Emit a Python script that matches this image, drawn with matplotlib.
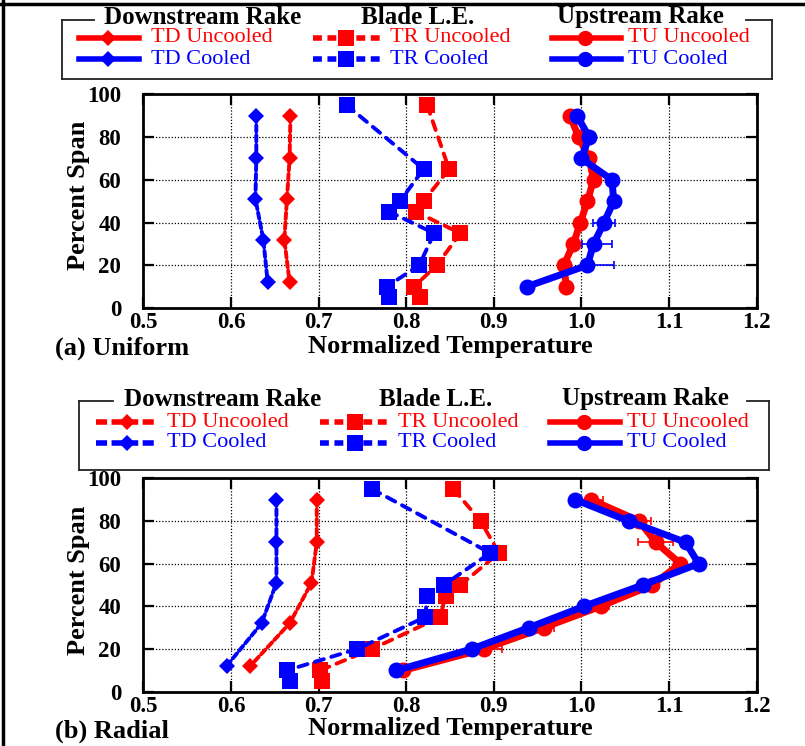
#!/usr/bin/env python
# -*- coding: utf-8 -*-
#
# Span-wise normalized temperature profiles, uniform and radial inlet

import matplotlib
matplotlib.use('Agg')
import matplotlib.pyplot as plt
from matplotlib.lines import Line2D

plt.rcParams['font.family'] = ['Liberation Serif', 'DejaVu Serif']

# -- (a) uniform inlet profile
td_span = [90, 70, 51, 32, 12]
td_unc_a = [0.668, 0.667, 0.664, 0.661, 0.667]
td_cool_a = [0.629, 0.629, 0.628, 0.637, 0.642]

tr_span = [95, 65, 50, 45, 35, 20, 10, 5]
tr_unc_a = [0.824, 0.849, 0.820, 0.811, 0.862, 0.835, 0.809, 0.816]
tr_cool_a = [0.732, 0.820, 0.793, 0.781, 0.832, 0.815, 0.778, 0.780]

tu_span = [90, 80, 70, 60, 50, 40, 30, 20, 10]
tu_unc_a = [0.987, 0.997, 1.009, 1.014, 1.007, 0.999, 0.991, 0.980, 0.983]
tu_cool_a = [0.995, 1.009, 1.000, 1.035, 1.037, 1.026, 1.014, 1.007, 0.938]
tu_cool_err_lo_a = [0, 0, 0, 0, 0, 0.013, 0.013, 0, 0]
tu_cool_err_hi_a = [0, 0, 0, 0, 0, 0.013, 0.021, 0.030, 0]

# -- (b) radial inlet profile
td_unc_b = [0.698, 0.698, 0.692, 0.667, 0.622]
td_cool_b = [0.652, 0.652, 0.652, 0.635, 0.595]

tr_span_unc_b = [95, 80, 65, 50, 45, 35, 20, 10, 5]
tr_unc_b = [0.854, 0.885, 0.906, 0.862, 0.845, 0.839, 0.761, 0.702, 0.704]
tr_span_cool_b = [95, 65, 50, 45, 35, 20, 10, 5]
tr_cool_b = [0.761, 0.896, 0.843, 0.824, 0.822, 0.744, 0.664, 0.667]

tu_unc_b = [1.011, 1.066, 1.085, 1.113, 1.081, 1.022, 0.957, 0.889, 0.797]
tu_cool_b = [0.993, 1.054, 1.119, 1.134, 1.070, 1.003, 0.940, 0.875, 0.789]
tu_unc_err_lo_b = [0, 0, 0.020, 0, 0, 0, 0, 0, 0]
tu_unc_err_hi_b = [0.014, 0.013, 0.020, 0.005, 0.008, 0.010, 0.012, 0.021, 0]

x_ticks = [0.5, 0.6, 0.7, 0.8, 0.9, 1.0, 1.1, 1.2]
x_ticklabels = ['0.5', '0.6', '0.7', '0.8', '0.9', '1.0', '1.1', '1.2']
y_ticks = [0, 20, 40, 60, 80, 100]

RED = '#ff0000'
BLUE = '#0000ff'
W, H = 805, 746

# -- line styles of the three measurement locations
td_style = dict(linestyle=(0, (1.6, 0.9)), lw=2.8, marker='D', ms=8,
                mew=0, dash_capstyle='round')
tr_style = dict(linestyle=(0, (2.4, 2.0)), lw=2.8, marker='s', ms=12,
                mew=0, dash_capstyle='round')
tu_style = dict(linestyle='-', lw=5, marker='o', ms=11.5, mew=0)


def fx(px):
    return px / float(W)


def fy(py):
    return 1.0 - py / float(H)


def setup_axes(ax):
    ax.set_xlim(0.5, 1.2)
    ax.set_ylim(0, 100)
    ax.set_xticks(x_ticks)
    ax.set_xticklabels(x_ticklabels)
    ax.set_yticks(y_ticks)
    ax.tick_params(direction='in', length=8, width=1.6, top=True,
                   right=True, labelsize=16.5, pad=3)
    ax.tick_params(axis='y', pad=16)
    for lab in ax.get_xticklabels() + ax.get_yticklabels():
        lab.set_fontweight('bold')
    for sp in ax.spines.values():
        sp.set_linewidth(2)
    ax.grid(True, color='black', linestyle=(0, (1, 1.5)), lw=0.9)
    ax.set_axisbelow(True)


def draw_panel(ax, td_u, td_c, tr_su, tr_u, tr_sc, tr_c, tu_u, tu_c,
               err_u=None, err_c=None):
    ax.plot(td_u, td_span, color=RED, **td_style)
    ax.plot(td_c, td_span, color=BLUE, **td_style)
    ax.plot(tr_u, tr_su, color=RED, **tr_style)
    ax.plot(tr_c, tr_sc, color=BLUE, **tr_style)
    if err_u is not None:
        ax.errorbar(tu_u, tu_span, xerr=err_u, fmt='none', ecolor=RED,
                    elinewidth=1.2, capsize=3, capthick=1.2)
    ax.plot(tu_u, tu_span, color=RED, **tu_style)
    if err_c is not None:
        ax.errorbar(tu_c, tu_span, xerr=err_c, fmt='none', ecolor=BLUE,
                    elinewidth=1.2, capsize=3, capthick=1.2)
    ax.plot(tu_c, tu_span, color=BLUE, **tu_style)


def draw_key(fig, frame, gap, titles, y_title, rows, cols, td_dashed):
    x0, x1, y0, y1 = frame
    segs = [([x0, gap[0]], [y0, y0]), ([gap[1], x1], [y0, y0]),
            ([x0, x0], [y0, y1]), ([x1, x1], [y0, y1]),
            ([x0, x1], [y1, y1])]
    for xs, ys in segs:
        fig.add_artist(Line2D([fx(v) for v in xs], [fy(v) for v in ys],
                              color='#222222', lw=1.3))
    for (xc, txt) in zip([c[3] for c in cols], titles):
        fig.text(fx(xc), fy(y_title), txt, ha='center', va='center',
                 fontsize=18, fontweight='bold')
    labels = [('TD Uncooled', 'TD Cooled'), ('TR Uncooled', 'TR Cooled'),
              ('TU Uncooled', 'TU Cooled')]
    for i, (lx0, lx1, mx, _, tx) in enumerate(cols):
        for j, color in enumerate([RED, BLUE]):
            yy = rows[j]
            if i == 0:
                ls = (0, (2.0, 0.8)) if td_dashed else '-'
                mk, ms = 'D', 8
            elif i == 1:
                ls = (0, (1.6, 1.0))
                mk, ms = 's', 11
            else:
                ls = '-'
                mk, ms = 'o', 11
            fig.add_artist(Line2D([fx(lx0), fx(lx1)], [fy(yy), fy(yy)],
                                  color=color, lw=4, linestyle=ls))
            fig.add_artist(Line2D([fx(mx)], [fy(yy)], color=color,
                                  marker=mk, ms=ms, mew=0, linestyle='none'))
            fig.text(fx(tx), fy(yy), labels[i][j], color=color,
                     ha='left', va='center', fontsize=16)


fig = plt.figure(figsize=(W / 100.0, H / 100.0), dpi=100)

# -- upper panel
ax1 = fig.add_axes([fx(143.3), fy(308), fx(756.5) - fx(143.3),
                    fy(94.3) - fy(308)])
setup_axes(ax1)
draw_panel(ax1, td_unc_a, td_cool_a, tr_span, tr_unc_a, tr_span, tr_cool_a,
           tu_unc_a, tu_cool_a,
           err_c=[tu_cool_err_lo_a, tu_cool_err_hi_a])

# -- lower panel
ax2 = fig.add_axes([fx(143.3), fy(691.7), fx(756.5) - fx(143.3),
                    fy(478.3) - fy(691.7)])
setup_axes(ax2)
draw_panel(ax2, td_unc_b, td_cool_b, tr_span_unc_b, tr_unc_b,
           tr_span_cool_b, tr_cool_b, tu_unc_b, tu_cool_b,
           err_u=[tu_unc_err_lo_b, tu_unc_err_hi_b])

titles = ['Downstream Rake', 'Blade L.E.', 'Upstream Rake']
draw_key(fig, (62, 772, 20, 79), (94, 746), titles, 17, (38, 59),
         [(79, 139, 108, 203, 151), (313, 382, 346, 418, 390),
          (552, 621, 585, 640, 628)], False)
draw_key(fig, (79, 769, 401, 470), (113, 747), titles, 399, (422, 443),
         [(96, 155, 127, 223, 167), (320, 389, 355, 436, 398),
          (550, 620, 584, 645, 627)], True)

# -- axis annotations
for yl, yc, tag in [(346, 195, '(a) Uniform'), (729, 580, '(b) Radial')]:
    fig.text(fx(450), fy(yl), 'Normalized Temperature', ha='center',
             va='center', fontsize=19, fontweight='bold')
    fig.text(fx(55), fy(yl + 2), tag, ha='left', va='center',
             fontsize=19, fontweight='bold')
    fig.text(fx(78), fy(yc), 'Percent Span', ha='center', va='center',
             rotation=90, fontsize=19, fontweight='bold')

# -- outer frame
fig.add_artist(Line2D([fx(3), fx(3)], [0, 1], color='black', lw=2.5))
fig.add_artist(Line2D([0, 1], [fy(4), fy(4)], color='black', lw=2.5))

fig.savefig('out.png', dpi=100)
plt.close(fig)
